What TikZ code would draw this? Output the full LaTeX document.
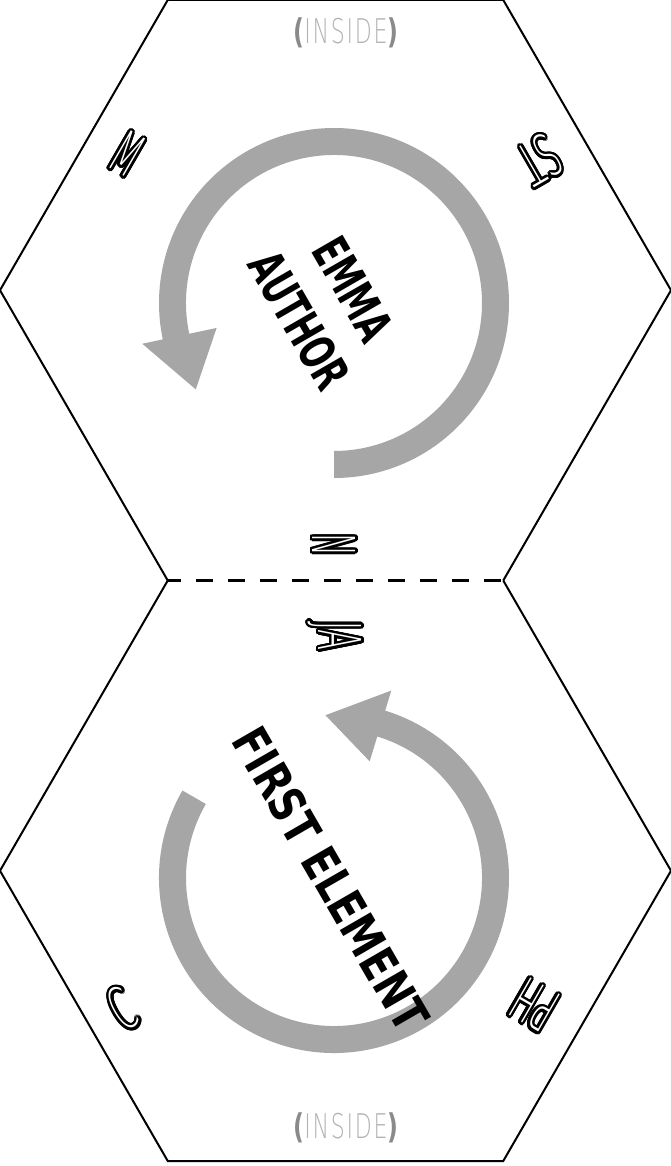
\documentclass[tikz,border=0pt]{standalone}
\usepackage{fontspec}
\usepackage{contour}
\usetikzlibrary{calc}
\setmainfont{DejaVu Sans}
\newfontfamily\bfnt{DejaVu Sans}
\IfFontExistsTF{DejaVu Sans ExtraLight}
  {\newfontfamily\thinfnt{DejaVu Sans ExtraLight}}
  {\newfontfamily\thinfnt{DejaVu Sans}}
\definecolor{arrowgray}{RGB}{166,166,166}
\definecolor{insidegray}{RGB}{178,178,178}
\definecolor{parengray}{RGB}{138,138,138}
\contourlength{2.5pt}
\contournumber{24}
\newcommand\olbl[1]{\textcolor{white}{\contour{black}{\scalebox{0.52}[1]{#1}}}}
\newcommand\insidelbl{\scalebox{0.7}[1]{\bfnt\bfseries\textcolor{parengray}{(}}\scalebox{0.65}[1]{\addfontfeature{LetterSpace=8}INSIDE}\scalebox{0.7}[1]{\bfnt\bfseries\textcolor{parengray}{)}}}
\begin{document}
\begin{tikzpicture}[x=1pt,y=1pt,
  hexline/.style={line width=2pt, line join=miter},
  foldline/.style={line width=2.2pt, dash pattern=on 17pt off 15pt, dash phase=4pt},
  ringarrow/.style={fill=arrowgray},
  bigtext/.style={font=\bfnt\bfseries\fontsize{49}{62}\selectfont, rotate=-60, align=center, inner sep=0pt},
  olabel/.style={font=\thinfnt\fontsize{59}{59}\selectfont, inner sep=0pt},
  insidetext/.style={font=\thinfnt\fontsize{34}{34}\selectfont, inner sep=0pt, text=insidegray}]
\fill[white] (0,0) rectangle (671,-1166);
\useasboundingbox (0,0) rectangle (671,-1166);
% hexagon vertices
\coordinate (t1) at (167.75,0);
\coordinate (t2) at (503.25,0);
\coordinate (t3) at (671,-290.25);
\coordinate (m2) at (503.25,-580.5);
\coordinate (m1) at (167.75,-580.5);
\coordinate (t6) at (0,-290.25);
\coordinate (b3) at (671,-870.75);
\coordinate (b4) at (503.25,-1161);
\coordinate (b5) at (167.75,-1161);
\coordinate (b6) at (0,-870.75);
% ring arrows
\coordinate (c1) at (334,-303);
\coordinate (c2) at (334,-878);
\fill[ringarrow] ($(c1)+(270:175)$) arc[start angle=270,end angle=552,radius=175]
  -- ($(c1)+(192:196)$) -- ($(c1)+(212:163)$) -- ($(c1)+(192:120)$)
  -- ($(c1)+(192:148)$) arc[start angle=552,end angle=270,radius=148] -- cycle;
\fill[ringarrow] ($(c2)+(150:175)$) arc[start angle=150,end angle=433,radius=175]
  -- ($(c2)+(73:196)$) -- ($(c2)+(93:163)$) -- ($(c2)+(73:122)$)
  -- ($(c2)+(73:148)$) arc[start angle=433,end angle=150,radius=148] -- cycle;
% hexagons
\draw[hexline] (m1) -- (t6) -- (t1) -- (t2) -- (t3) -- (m2);
\draw[hexline] (m2) -- (b3) -- (b4) -- (b5) -- (b6) -- (m1);
\draw[foldline] (m1) -- (m2);
% texts
\node[insidetext] (insTop) at (346,-33) {\insidelbl};
\node[insidetext] (insBot) at (346,-1128) {\insidelbl};
\node[bigtext] (author) at (326,-305) {\scalebox{0.65}[1]{EMMA}\\\scalebox{0.65}[1]{AUTHOR}};
\node[bigtext] (element) at (331,-879) {\scalebox{0.79}[1]{FIRST ELEMENT}};
\node[olabel, rotate=-30] (lblM) at (127,-155) {\olbl{M}};
\node[olabel, rotate=210] (lblST) at (539,-159) {\olbl{ST}};
\node[olabel, rotate=-90] (lblN) at (333,-545) {\olbl{N}};
\node[olabel, rotate=-90] (lblJA) at (334,-636) {\olbl{JA}};
\node[olabel, rotate=30] (lblC) at (123,-1010) {\olbl{C}};
\node[olabel, rotate=150] (lblPH) at (535,-1004) {\olbl{PH}};
\end{tikzpicture}
\end{document}
